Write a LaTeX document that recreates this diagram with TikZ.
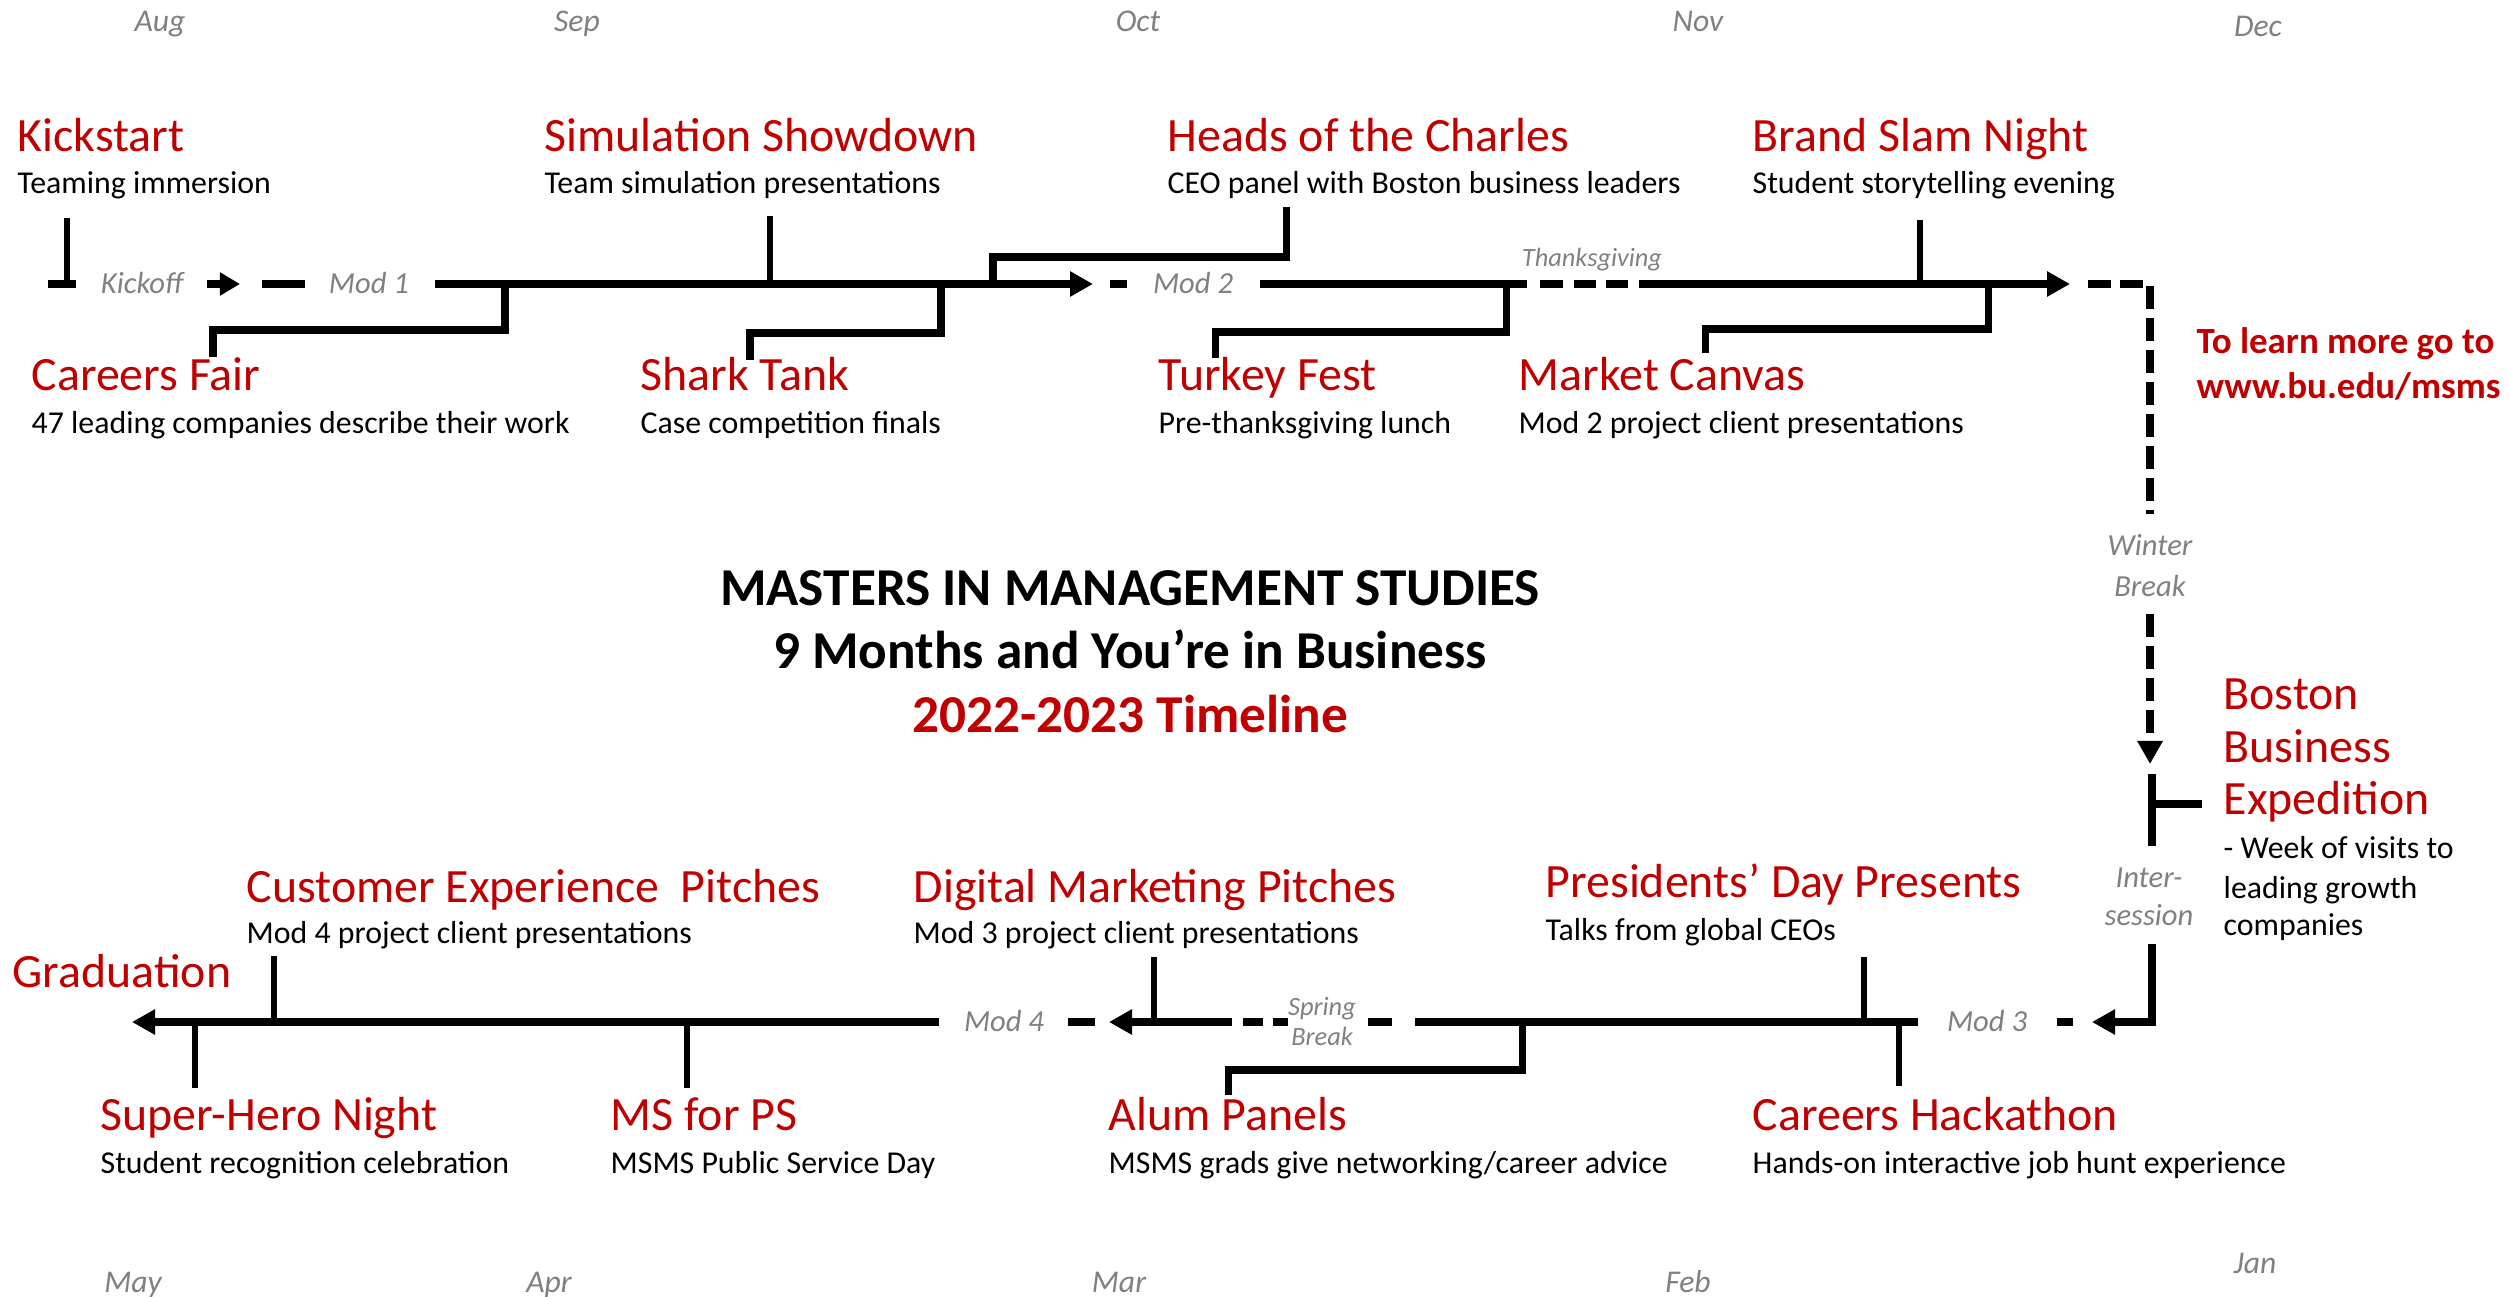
\documentclass[tikz,border=0pt]{standalone}
\usepackage{fontspec}
\setmainfont{Carlito}
\usepackage{xcolor}
\usetikzlibrary{arrows.meta,positioning}
\definecolor{burg}{HTML}{C00000}
\definecolor{fog}{HTML}{808080}
\tikzset{
	evt/.style={anchor=base west,inner sep=0pt,text=burg,font=\fontsize{13.6}{16}\selectfont},
	evtsub/.style={anchor=base west,inner sep=0pt,font=\fontsize{9.05}{11}\selectfont},
	mon/.style={anchor=base,inner sep=0pt,text=fog,font=\fontsize{9}{11}\selectfont\itshape},
	modl/.style={anchor=base,inner sep=0pt,text=fog,font=\fontsize{8.7}{10}\selectfont\itshape},
	brkl/.style={anchor=base,inner sep=0pt,text=fog,font=\fontsize{7.5}{9}\selectfont\itshape},
	spine/.style={line width=2.4pt},
	headed/.style={-{Triangle[length=0.23cm,width=0.24cm]}},
	drop/.style={line width=1.7pt},
	jog/.style={line width=2pt},
	gapline/.style={line width=2.4pt,dash pattern=on 6.5pt off 2.6pt},
	ttl/.style={anchor=base,inner sep=0pt,font=\fontsize{15.15}{19}\selectfont\bfseries}
}
\begin{document}
\begin{tikzpicture}[x=0.01cm,y=-0.01cm]
	\useasboundingbox (0,0) rectangle (2509,1297);
	% months
	\foreach \m/\x/\y in {Aug/160/32,Sep/577/32,Oct/1138/32,Nov/1698/32,Dec/2258/37,May/133/1292,Apr/549/1292,Mar/1119/1292,Feb/1688/1292,Jan/2255/1273}
		\node[mon] (m-\m) at (\x,\y) {\m};
	% points on the two lines
	\foreach \n/\x/\y in {ko-l/48/284,ko-r/76/284,ko-a/67/284,ko-t/67/218,ka-l/207/284,ka-r/240/284,d1-l/262/284,d1-r/305/284,
			s1-l/435/284,s1-r/1093/284,d2-l/1110/284,d2-r/1127/284,s2-l/1260/284,s2-r/1527/284,
			tg1-l/1540/284,tg1-r/1563/284,tg2-l/1574/284,tg2-r/1596/284,tg3-l/1606/284,tg3-r/1628/284,
			s3-l/1639/284,s3-r/2070/284,wb-l/2088/284,wb-c/2150/284,wb-e/2150/514,wb-s/2150/614,wb-t/2150/764,
			bb-t/2152/774,bb-b/2152/846,bb-m/2152/804,bb-r/2202/804,is-t/2152/944,is-c/2152/1022,is-e/2092/1022,
			d3-l/2057/1022,d3-r/2073/1022,s4-r/1918/1022,s4-l/1415/1022,sb1-r/1392/1022,sb1-l/1368/1022,
			sb2-r/1288/1022,sb2-l/1273/1022,sb3-r/1263/1022,sb3-l/1243/1022,s5-r/1232/1022,s5-l/1109/1022,
			d4-r/1095/1022,d4-l/1068/1022,s6-r/939/1022,s6-l/132/1022}
		\coordinate (\n) at (\x,\y);
	% top line
	\draw[spine] (ko-l) -- (ko-r);
	\draw[drop] (ko-t) -- (ko-a);
	\draw[spine,-{Triangle[length=0.2cm,width=0.22cm]}] (ka-l) -- (ka-r);
	\draw[spine] (d1-l) -- (d1-r);
	\draw[spine,headed] (s1-l) -- (s1-r);
	\draw[spine] (d2-l) -- (d2-r);
	\draw[spine] (s2-l) -- (s2-r);
	\foreach \i in {1,2,3}
		\draw[spine] (tg\i-l) -- (tg\i-r);
	\draw[spine,headed] (s3-l) -- (s3-r);
	\draw[gapline] (wb-l) -- (wb-c) -- (wb-e);
	\draw[gapline,headed] (wb-s) -- (wb-t);
	\node[modl] (kickoff) at (142,293) {Kickoff};
	\node[modl] (mod1) at (369,293) {Mod 1};
	\node[modl] (mod2) at (1193,293) {Mod 2};
	\node[brkl] (thx) at (1592,267) {Thanksgiving};
	\node[modl] (winter) at (2150,555) {Winter};
	\node[modl] (winter2) at (2150,596) {Break};
	% events above and below the top line
	\node[evt] (kick) at (17,152) {Kickstart};
	\node[evtsub] (kick-s) at (17,193) {Teaming immersion};
	\node[evt] (sim) at (544,152) {Simulation Showdown};
	\node[evtsub] (sim-s) at (544,193) {Team simulation presentations};
	\node[evt] (heads) at (1167,152) {Heads of the Charles};
	\node[evtsub] (heads-s) at (1167,193) {CEO panel with Boston business leaders};
	\node[evt] (brand) at (1752,152) {Brand Slam Night};
	\node[evtsub] (brand-s) at (1752,193) {Student storytelling evening};
	\node[evt] (cfair) at (31,390) {Careers Fair};
	\node[evtsub] (cfair-s) at (31,433) {47 leading companies describe their work};
	\node[evt] (shark) at (640,390) {Shark Tank};
	\node[evtsub] (shark-s) at (640,433) {Case competition finals};
	\node[evt] (turkey) at (1158,390) {Turkey Fest};
	\node[evtsub] (turkey-s) at (1158,433) {Pre-thanksgiving lunch};
	\node[evt] (canvas) at (1518,390) {Market Canvas};
	\node[evtsub] (canvas-s) at (1518,433) {Mod 2 project client presentations};
	\draw[drop] (770,216) coordinate (sim-a) -- (sim-a|-s1-l);
	\draw[drop] (1920,220) coordinate (brand-a) -- (brand-a|-s3-l);
	\draw[jog] (505,284) coordinate (cfair-a) -- (505,330) -- (213,330) -- (213,357) coordinate (cfair-b);
	\draw[jog] (941,284) coordinate (shark-a) -- (941,333) -- (750,333) -- (750,360) coordinate (shark-b);
	\draw[jog] (993,284) coordinate (heads-a) -- (993,257) -- (1286,257) -- (1286,207) coordinate (heads-b);
	\draw[jog] (1506,284) coordinate (turkey-a) -- (1506,332) -- (1215,332) -- (1215,358) coordinate (turkey-b);
	\draw[jog] (1988,284) coordinate (canvas-a) -- (1988,329) -- (1705,329) -- (1705,353) coordinate (canvas-b);
	\node[anchor=base west,inner sep=0pt,text=burg,font=\fontsize{10.5}{12}\selectfont\bfseries] (more) at (2196,353) {To learn more go to};
	\node[anchor=base west,inner sep=0pt,text=burg,font=\fontsize{10.5}{12}\selectfont\bfseries] (url) at (2196,398) {www.bu.edu/msms};
	% title
	\node[ttl] (t1) at (1130,605) {MASTERS IN MANAGEMENT STUDIES};
	\node[ttl] (t2) at (1130,668) {9 Months and You’re in Business};
	\node[ttl,text=burg] (t3) at (1130,732) {2022-2023 Timeline};
	% boston expedition
	\draw[spine] (bb-t) -- (bb-b);
	\draw[spine] (bb-m) -- (bb-r);
	\node[evt] (bos1) at (2223,709) {Boston};
	\node[evt] (bos2) at (2223,762) {Business};
	\node[evt] (bos3) at (2223,814) {Expedition};
	\node[evtsub] (bos-s1) at (2223,858) {- Week of visits to};
	\node[evtsub] (bos-s2) at (2223,898) {leading growth};
	\node[evtsub] (bos-s3) at (2223,935) {companies};
	\node[modl] (inter) at (2149,887) {Inter-};
	\node[modl] (inter2) at (2149,925) {session};
	% bottom line
	\draw[spine,headed] (is-t) -- (is-c) -- (is-e);
	\draw[spine] (d3-l) -- (d3-r);
	\draw[spine] (s4-r) -- (s4-l);
	\foreach \i in {1,2,3}
		\draw[spine] (sb\i-r) -- (sb\i-l);
	\draw[spine,headed] (s5-r) -- (s5-l);
	\draw[spine] (d4-r) -- (d4-l);
	\draw[spine,headed] (s6-r) -- (s6-l);
	\node[modl] (mod3) at (1987,1031) {Mod 3};
	\node[modl] (mod4) at (1004,1031) {Mod 4};
	\node[brkl] (spring) at (1322,1015) {Spring};
	\node[brkl] (spring2) at (1322,1045) {Break};
	\node[evt] (grad) at (12,987) {Graduation};
	\node[evt] (cust) at (246,902) {Customer Experience\ \ Pitches};
	\node[evtsub] (cust-s) at (246,943) {Mod 4 project client presentations};
	\node[evt] (digi) at (913,902) {Digital Marketing Pitches};
	\node[evtsub] (digi-s) at (913,943) {Mod 3 project client presentations};
	\node[evt] (pres) at (1545,897) {Presidents’ Day Presents};
	\node[evtsub] (pres-s) at (1545,940) {Talks from global CEOs};
	\node[evt] (hero) at (100,1130) {Super-Hero Night};
	\node[evtsub] (hero-s) at (100,1173) {Student recognition celebration};
	\node[evt] (msps) at (610,1130) {MS for PS};
	\node[evtsub] (msps-s) at (610,1173) {MSMS Public Service Day};
	\node[evt] (alum) at (1108,1130) {Alum Panels};
	\node[evtsub] (alum-s) at (1108,1173) {MSMS grads give networking/career advice};
	\node[evt] (hack) at (1752,1130) {Careers Hackathon};
	\node[evtsub] (hack-s) at (1752,1173) {Hands-on interactive job hunt experience};
	\draw[drop] (274,956) coordinate (cust-a) -- (cust-a|-s6-l);
	\draw[drop] (1154,957) coordinate (digi-a) -- (digi-a|-s5-l);
	\draw[drop] (1864,957) coordinate (pres-a) -- (pres-a|-s4-l);
	\draw[drop] (195,1088) coordinate (hero-a) -- (hero-a|-s6-l);
	\draw[drop] (687,1088) coordinate (msps-a) -- (msps-a|-s6-l);
	\draw[drop] (1899,1086) coordinate (hack-a) -- (hack-a|-s4-l);
	\draw[jog] (1522,1022) coordinate (alum-a) -- (1522,1070) -- (1228,1070) -- (1228,1095) coordinate (alum-b);
\end{tikzpicture}
\end{document}
